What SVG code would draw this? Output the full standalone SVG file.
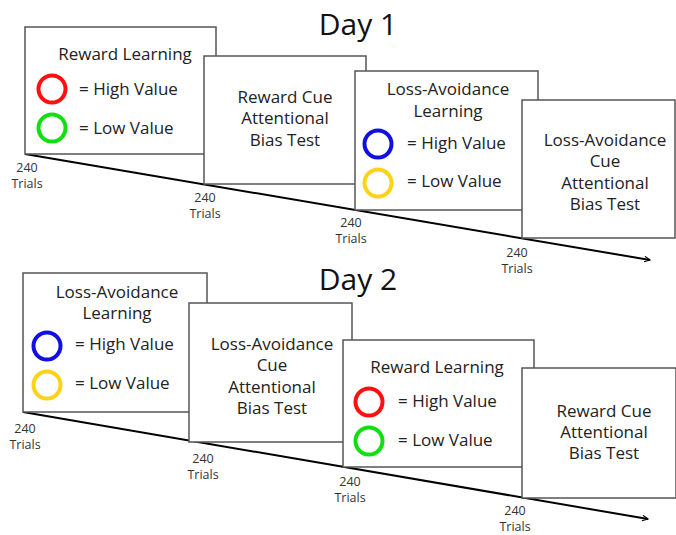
<svg xmlns="http://www.w3.org/2000/svg" width="676" height="535" viewBox="0 0 676 535">
<style>
  .box { fill: #fff; stroke: #555; stroke-width: 1.5; }
  .t { font-family: "Open Sans", "Noto Sans", sans-serif; font-size: 17px; fill: #222; }
  .c { text-anchor: middle; }
  .s { font-family: "Open Sans", "Noto Sans", sans-serif; font-size: 12.5px; fill: #333; text-anchor: middle; }
  .day { font-family: "Open Sans", "Noto Sans", sans-serif; font-size: 30px; fill: #111; text-anchor: middle; }
  .ring { fill: none; stroke-width: 4; }
  .axis { stroke: #000; stroke-width: 2; fill: none; }
</style>
<defs>
  <marker id="arr" viewBox="0 0 10 10" refX="9" refY="5" markerWidth="7" markerHeight="7" orient="auto" markerUnits="userSpaceOnUse">
    <polyline points="1,1 9,5 1,9" fill="none" stroke="#000" stroke-width="1.6"/>
  </marker>
</defs>
<rect width="676" height="535" fill="#fff"/>

<text class="day" x="358" y="35">Day 1</text>
<text class="day" x="358" y="290">Day 2</text>

<g id="connectors">
  <line class="axis" x1="25" y1="154" x2="650" y2="260" marker-end="url(#arr)"/>
  <line class="axis" x1="23" y1="412" x2="648" y2="519" marker-end="url(#arr)"/>
</g>

<!-- Day 1 -->
<g id="d1-reward-learning">
  <rect class="box" x="25" y="27" width="191" height="127"/>
  <text class="t c" x="125" y="60">Reward Learning</text>
  <circle class="ring" cx="52" cy="89" r="13.5" stroke="#ff1010"/>
  <circle class="ring" cx="52" cy="128" r="13.5" stroke="#10e010"/>
  <text class="t" x="79" y="95">= High Value</text>
  <text class="t" x="79" y="134">= Low Value</text>
</g>
<g id="d1-reward-cue-test">
  <rect class="box" x="204" y="56" width="162" height="128"/>
  <text class="t c" x="285" y="103">Reward Cue</text>
  <text class="t c" x="285" y="124">Attentional</text>
  <text class="t c" x="285" y="146">Bias Test</text>
</g>
<g id="d1-loss-learning">
  <rect class="box" x="355" y="71" width="183" height="139"/>
  <text class="t c" x="448" y="95">Loss-Avoidance</text>
  <text class="t c" x="448" y="117">Learning</text>
  <circle class="ring" cx="378" cy="144" r="13.5" stroke="#1010e0"/>
  <circle class="ring" cx="378" cy="183" r="13.5" stroke="#ffd21a"/>
  <text class="t" x="407" y="149">= High Value</text>
  <text class="t" x="407" y="187">= Low Value</text>
</g>
<g id="d1-loss-cue-test">
  <rect class="box" x="522" y="100" width="153" height="138"/>
  <text class="t c" x="605" y="146">Loss-Avoidance</text>
  <text class="t c" x="605" y="167">Cue</text>
  <text class="t c" x="605" y="189">Attentional</text>
  <text class="t c" x="605" y="210">Bias Test</text>
</g>
<g id="d1-labels">
  <text class="s" x="27" y="172">240</text>
  <text class="s" x="27" y="188">Trials</text>
  <text class="s" x="205" y="202">240</text>
  <text class="s" x="205" y="218">Trials</text>
  <text class="s" x="351" y="227">240</text>
  <text class="s" x="351" y="243">Trials</text>
  <text class="s" x="517" y="257">240</text>
  <text class="s" x="517" y="273">Trials</text>
</g>

<!-- Day 2 -->
<g id="d2-loss-learning">
  <rect class="box" x="23" y="273" width="184" height="139"/>
  <text class="t c" x="117" y="298">Loss-Avoidance</text>
  <text class="t c" x="117" y="319">Learning</text>
  <circle class="ring" cx="47" cy="346" r="13.5" stroke="#1010e0"/>
  <circle class="ring" cx="47" cy="385" r="13.5" stroke="#ffd21a"/>
  <text class="t" x="75" y="350">= High Value</text>
  <text class="t" x="75" y="389">= Low Value</text>
</g>
<g id="d2-loss-cue-test">
  <rect class="box" x="189" y="303" width="163" height="139"/>
  <text class="t c" x="272" y="350">Loss-Avoidance</text>
  <text class="t c" x="272" y="371">Cue</text>
  <text class="t c" x="272" y="393">Attentional</text>
  <text class="t c" x="272" y="414">Bias Test</text>
</g>
<g id="d2-reward-learning">
  <rect class="box" x="343" y="340" width="191" height="127"/>
  <text class="t c" x="437" y="373">Reward Learning</text>
  <circle class="ring" cx="369" cy="402" r="13.5" stroke="#ff1010"/>
  <circle class="ring" cx="369" cy="441" r="13.5" stroke="#10e010"/>
  <text class="t" x="398" y="407">= High Value</text>
  <text class="t" x="398" y="446">= Low Value</text>
</g>
<g id="d2-reward-cue-test">
  <rect class="box" x="522" y="368" width="154" height="130"/>
  <text class="t c" x="604" y="417">Reward Cue</text>
  <text class="t c" x="604" y="438">Attentional</text>
  <text class="t c" x="604" y="459">Bias Test</text>
</g>
<g id="d2-labels">
  <text class="s" x="25" y="433">240</text>
  <text class="s" x="25" y="449">Trials</text>
  <text class="s" x="203" y="463">240</text>
  <text class="s" x="203" y="479">Trials</text>
  <text class="s" x="350" y="486">240</text>
  <text class="s" x="350" y="502">Trials</text>
  <text class="s" x="515" y="515">240</text>
  <text class="s" x="515" y="531">Trials</text>
</g>
</svg>
